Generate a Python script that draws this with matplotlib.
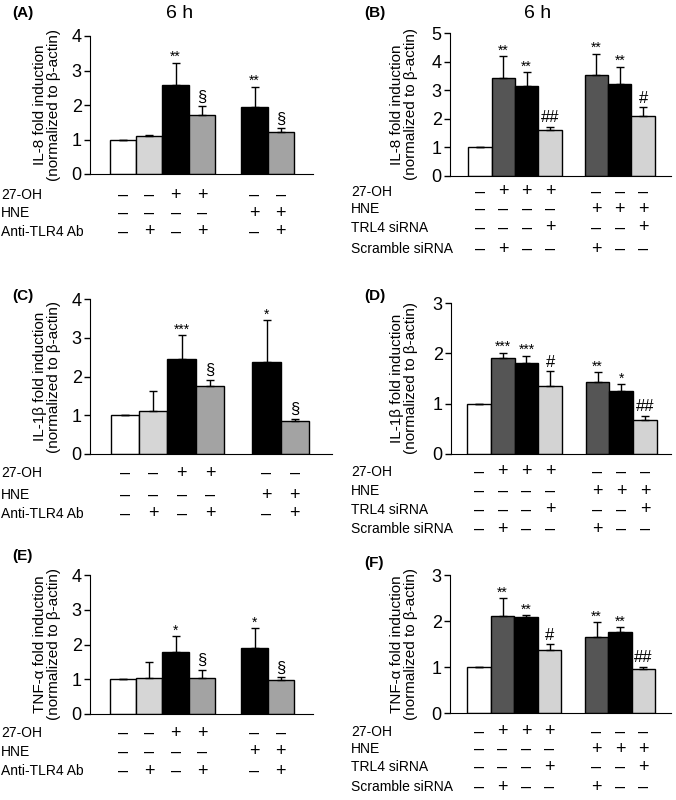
"""
Six bar panels: IL-8, IL-1b and TNF-a induction after 27-OH / HNE with TLR4 blocking.
"""
import numpy as np
import matplotlib
matplotlib.use("Agg")
import matplotlib.pyplot as plt
from matplotlib.transforms import blended_transform_factory

plt.rcParams["font.family"] = ["Liberation Sans", "DejaVu Sans"]

W, H = 676, 800

# --- data ---
ab_pos = [0, 1, 2, 3, 5, 6]
si_pos = [0, 1, 2, 3, 5, 6, 7]

ab_colors = ["white", "#d6d6d6", "black", "#a3a3a3", "black", "#a3a3a3"]
si_colors = ["white", "#555555", "black", "#d3d3d3", "#555555", "black", "#d3d3d3"]

ab_rows = ["27-OH", "HNE", "Anti-TLR4 Ab"]
ab_signs = [["-", "-", "+", "+", "-", "-"],
            ["-", "-", "-", "-", "+", "+"],
            ["-", "+", "-", "+", "-", "+"]]
si_rows = ["27-OH", "HNE", "TRL4 siRNA", "Scramble siRNA"]
si_signs = [["-", "+", "+", "+", "-", "-", "-"],
            ["-", "-", "-", "-", "+", "+", "+"],
            ["-", "-", "-", "+", "-", "-", "+"],
            ["-", "+", "-", "-", "+", "-", "-"]]

# panel A: IL-8, antibody
a_vals = [1.0, 1.09, 2.57, 1.71, 1.93, 1.23]
a_err = [0.0, 0.05, 0.66, 0.26, 0.60, 0.11]
a_marks = ["", "", "**", "§", "**", "§"]

# panel B: IL-8, siRNA
b_vals = [1.0, 3.41, 3.14, 1.62, 3.52, 3.22, 2.11]
b_err = [0.0, 0.77, 0.50, 0.10, 0.75, 0.60, 0.30]
b_marks = ["", "**", "**", "##", "**", "**", "#"]

# panel C: IL-1b, antibody
c_vals = [1.0, 1.10, 2.45, 1.75, 2.37, 0.84]
c_err = [0.0, 0.52, 0.62, 0.17, 1.08, 0.07]
c_marks = ["", "", "***", "§", "*", "§"]

# panel D: IL-1b, siRNA
d_vals = [1.0, 1.91, 1.80, 1.35, 1.44, 1.25, 0.67]
d_err = [0.0, 0.10, 0.15, 0.29, 0.18, 0.14, 0.09]
d_marks = ["", "***", "***", "#", "**", "*", "##"]

# panel E: TNF-a, antibody
e_vals = [1.0, 1.03, 1.77, 1.03, 1.91, 0.97]
e_err = [0.0, 0.46, 0.47, 0.25, 0.56, 0.10]
e_marks = ["", "", "*", "§", "*", "§"]

# panel F: TNF-a, siRNA
f_vals = [1.0, 2.10, 2.08, 1.37, 1.66, 1.76, 0.95]
f_err = [0.0, 0.39, 0.05, 0.13, 0.31, 0.11, 0.06]
f_marks = ["", "**", "**", "#", "**", "**", "##"]


def fx(px):
    return px / W


def fy(py):
    return 1 - py / H


def panel(fig, box, pos, vals, errs, colors, marks, ymax, ylabel, ylab_x,
          rows, signs, row_ys, row_x, tag, tag_xy, title=None):
    # box = (axis x px, right px, top px, zero px, bar0 centre px, px per bar)
    ax_x, right, top, zero, c0, unit = box
    ax = fig.add_axes([fx(ax_x), fy(zero), fx(right - ax_x), (zero - top) / H])
    ax.bar(pos, vals, width=1.0, color=colors, edgecolor="black", linewidth=1.0)
    low = np.zeros(len(errs))
    ax.errorbar(pos, vals, yerr=[low, errs], fmt="none", ecolor="black",
                elinewidth=1.0, capsize=3, capthick=1.0)
    for p, v, e, m in zip(pos, vals, errs, marks):
        if m:
            small = m.startswith("*")
            ax.annotate(m, (p, v + e), xytext=(0, -1 if small else 1),
                        textcoords="offset points", ha="center", va="bottom",
                        fontsize=10 if small else 12)
    ax.set_xlim((ax_x - c0) / unit, (right - c0) / unit)
    ax.set_ylim(0, ymax)
    ax.set_yticks(range(ymax + 1))
    ax.set_xticks([])
    ax.spines["top"].set_visible(False)
    ax.spines["right"].set_visible(False)
    ax.tick_params(axis="y", labelsize=13, length=4, width=1, pad=2)
    fig.text(fx(ylab_x), fy((top + zero) / 2), ylabel, rotation=90,
             ha="center", va="center", multialignment="center",
             fontsize=11, linespacing=1.05)

    # treatment table under the bars
    tr = blended_transform_factory(ax.transData, fig.transFigure)
    for name, row, y in zip(rows, signs, row_ys):
        fig.text(fx(row_x), fy(y), name, ha="left", va="center", fontsize=10)
        for p, s in zip(pos, row):
            ax.text(p, fy(y), "–" if s == "-" else "+", transform=tr,
                    ha="center", va="center", fontsize=13, clip_on=False)

    fig.text(fx(tag_xy[0]), fy(tag_xy[1]), tag, ha="left", va="center",
             fontsize=11, fontweight="bold")
    if title:
        fig.text(fx(title[0]), fy(title[1]), "6 h", ha="center", va="center",
                 fontsize=14)
    return ax


fig = plt.figure(figsize=(W / 100, H / 100), dpi=100)

panel(fig, (90, 313, 36, 174, 123, 26.3), ab_pos, a_vals, a_err, ab_colors,
      a_marks, 4, "IL-8 fold induction\n(normalized to β-actin)", 47,
      ab_rows, ab_signs, [195, 213, 232], 1, "(A)", (12, 13), (180, 13))

panel(fig, (450, 671, 33, 176, 480, 23.3), si_pos, b_vals, b_err, si_colors,
      b_marks, 5, "IL-8 fold induction\n(normalized to β-actin)", 404,
      si_rows, si_signs, [192, 209, 228, 249], 351, "(B)", (364, 13), (538, 13))

panel(fig, (90, 332, 299, 454, 125, 28.3), ab_pos, c_vals, c_err, ab_colors,
      c_marks, 4, "IL-1β fold induction\n(normalized to β-actin)", 47,
      ab_rows, ab_signs, [473, 495, 514], 1, "(C)", (12, 296))

panel(fig, (451, 671, 303, 454, 479, 23.7), si_pos, d_vals, d_err, si_colors,
      d_marks, 3, "IL-1β fold induction\n(normalized to β-actin)", 404,
      si_rows, si_signs, [472, 491, 510, 529], 351, "(D)", (364, 296))

panel(fig, (90, 313, 575, 714, 123, 26.3), ab_pos, e_vals, e_err, ab_colors,
      e_marks, 4, "TNF-α fold induction\n(normalized to β-actin)", 47,
      ab_rows, ab_signs, [733, 752, 771], 1, "(E)", (12, 556))

panel(fig, (450, 671, 575, 713, 479, 23.5), si_pos, f_vals, f_err, si_colors,
      f_marks, 3, "TNF-α fold induction\n(normalized to β-actin)", 404,
      si_rows, si_signs, [732, 749, 767, 787], 351, "(F)", (364, 563))

fig.savefig("out.png", dpi=100)
